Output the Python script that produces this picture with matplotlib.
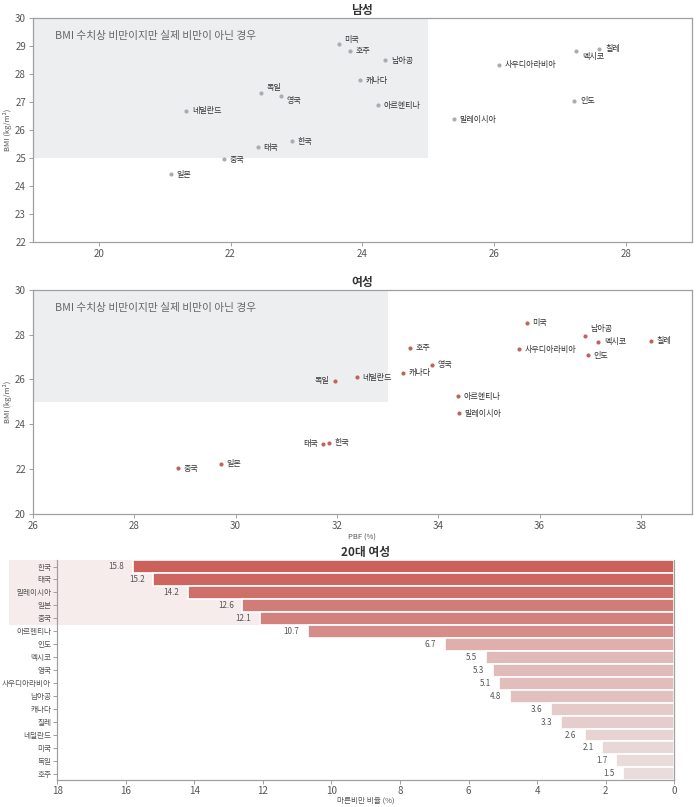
import numpy as np
import matplotlib
matplotlib.use('Agg')
import matplotlib.pyplot as plt
from matplotlib.colors import LinearSegmentedColormap
from matplotlib.patches import Rectangle

plt.rcParams['font.family'] = ['Noto Sans CJK KR', 'DejaVu Sans']

# ____Data_____
male_countries = ['미국', '호주', '남아공', '캐나다', '아르헨티나', '사우디아라비아', '말레이시아',
                  '멕시코', '칠레', '인도', '독일', '영국', '네덜란드', '한국', '태국', '중국', '일본']
male_pbf = [23.64, 23.82, 24.35, 23.96, 24.24, 26.08, 25.39,
            27.25, 27.60, 27.22, 22.47, 22.77, 21.33, 22.94, 22.42, 21.90, 21.10]
male_bmi = [29.08, 28.83, 28.49, 27.77, 26.88, 28.32, 26.38,
            28.80, 28.89, 27.04, 27.30, 27.20, 26.68, 25.60, 25.39, 24.96, 24.42]

female_countries = ['독일', '태국', '한국', '중국', '일본', '네덜란드', '호주', '캐나다', '영국',
                    '아르헨티나', '말레이시아', '미국', '사우디아라비아', '남아공', '멕시코', '인도', '칠레']
female_pbf = [31.96, 31.73, 31.85, 28.86, 29.71, 32.40, 33.45, 33.31, 33.88,
              34.38, 34.41, 35.75, 35.60, 36.89, 37.16, 36.96, 38.20]
female_bmi = [25.95, 23.14, 23.17, 22.04, 22.25, 26.10, 27.41, 26.29, 26.65,
              25.25, 24.49, 28.53, 27.35, 27.95, 27.67, 27.07, 27.72]

bar_countries = ['한국', '태국', '말레이시아', '일본', '중국', '아르헨티나', '인도', '멕시코', '영국',
                 '사우디아라비아', '남아공', '캐나다', '칠레', '네덜란드', '미국', '독일', '호주']
bar_values = [15.8, 15.2, 14.2, 12.6, 12.1, 10.7, 6.7, 5.5, 5.3,
              5.1, 4.8, 3.6, 3.3, 2.6, 2.1, 1.7, 1.5]

# label offsets in points (dx, dy, ha)
male_offsets = {'미국': (4, 3, 'left'), '멕시코': (4, -4, 'left'), '독일': (4, 4, 'left'),
                '영국': (4, -3, 'left')}
female_offsets = {'독일': (-4, 0, 'right'), '태국': (-4, 0, 'right'), '남아공': (4, 5, 'left')}

grey = '#333333'
spine_c = '#a0a0a0'
shade = '#eceef0'


def style_axes(ax):
    for s in ax.spines.values():
        s.set_color(spine_c)
        s.set_linewidth(0.9)
    ax.tick_params(colors='#555555', labelsize=7, length=3, width=0.7, color=spine_c, pad=2)


def scatter_panel(ax, x, y, names, offsets, color, title, xlim, ylim, shade_x, yticks):
    ax.add_patch(Rectangle((xlim[0], 25), shade_x - xlim[0], ylim[1] - 25,
                           facecolor=shade, edgecolor='none', zorder=0))
    ax.scatter(x, y, s=9, color=color, zorder=3, linewidths=0)
    for xi, yi, n in zip(x, y, names):
        dx, dy, ha = offsets.get(n, (4, 0, 'left'))
        ax.annotate(n, (xi, yi), xytext=(dx, dy), textcoords='offset points',
                    ha=ha, va='center', fontsize=5.8, color=grey, zorder=4)
    ax.text(0.033, 0.94, 'BMI 수치상 비만이지만 실제 비만이 아닌 경우', transform=ax.transAxes,
            fontsize=7.7, color='#666666', va='top')
    ax.set_xlim(*xlim)
    ax.set_ylim(*ylim)
    ax.set_yticks(yticks)
    ax.set_ylabel('BMI (kg/m²)', fontsize=5.5, color='#555555', labelpad=2)
    ax.set_title(title, fontsize=8.5, fontweight='bold', color=grey, pad=3)
    style_axes(ax)


fig = plt.figure(figsize=(7, 8.07), dpi=100)

ax1 = fig.add_axes([0.047, 0.700, 0.941, 0.278])
scatter_panel(ax1, male_pbf, male_bmi, male_countries, male_offsets, '#a6adb4', '남성',
              (19, 29), (22, 30), 25, np.arange(22, 31, 1))
ax1.set_xticks([20, 22, 24, 26, 28])

ax2 = fig.add_axes([0.047, 0.363, 0.941, 0.278])
scatter_panel(ax2, female_pbf, female_bmi, female_countries, female_offsets, '#c0645c', '여성',
              (26, 39), (20, 30), 33, np.arange(20, 31, 2))
ax2.set_xticks([26, 28, 30, 32, 34, 36, 38])
ax2.set_xlabel('PBF (%)', fontsize=5.5, color='#555555', labelpad=2)

# ____Bar chart_____
ax3 = fig.add_axes([0.082, 0.033, 0.881, 0.273])
cmap = LinearSegmentedColormap.from_list('pinks', ['#e8dcdc', '#cc615c'])
vals = np.array(bar_values)
norm = (vals - vals.min()) / (vals.max() - vals.min())
ypos = np.arange(len(bar_countries))
ax3.barh(ypos, vals, height=1.0, color=cmap(norm), edgecolor='white', linewidth=1.2, zorder=2)
for yi, v in zip(ypos, vals):
    ax3.text(v + 0.25, yi, f'{v}', ha='right', va='center', fontsize=5.8, color='#555555')
ax3.add_patch(Rectangle((-0.079, -0.5), 1.079, 5, transform=ax3.get_yaxis_transform(),
                        facecolor='#f7ecec', edgecolor='none', zorder=0, clip_on=False))
ax3.set_yticks(ypos)
ax3.set_yticklabels(bar_countries)
ax3.set_ylim(len(bar_countries) - 0.5, -0.5)
ax3.set_xlim(18, 0)
ax3.set_xticks([18, 16, 14, 12, 10, 8, 6, 4, 2, 0])
ax3.set_xlabel('마른비만 비율 (%)', fontsize=5.5, color='#555555', labelpad=0.5)
ax3.set_title('20대 여성', fontsize=8.5, fontweight='bold', color=grey, pad=3)
style_axes(ax3)
ax3.tick_params(axis='y', labelsize=5.5, pad=1.5)
ax3.tick_params(axis='x', pad=1)
ax3.spines['top'].set_visible(False)

fig.savefig('out.png', dpi=100)
